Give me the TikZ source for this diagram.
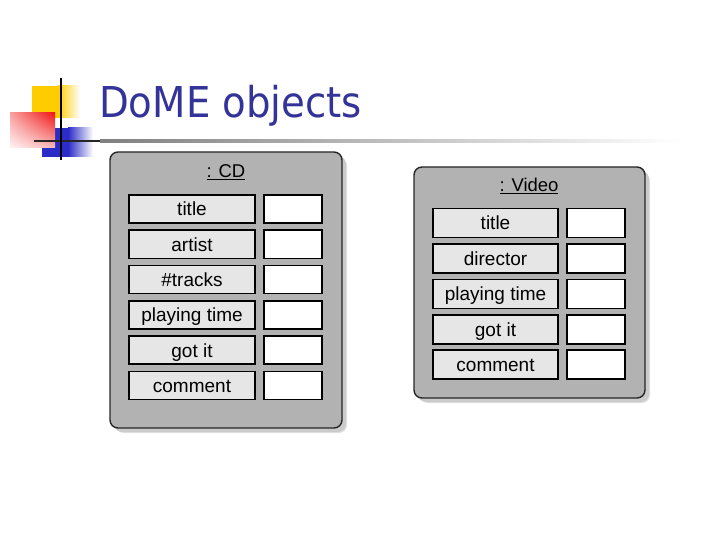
\documentclass[tikz,border=0pt]{standalone}
\usepackage{fontspec}
\usetikzlibrary{shadings}
\setmainfont{Liberation Sans}
\newfontfamily\titlefont[FakeStretch=0.91]{DejaVu Sans}
\definecolor{titleblue}{RGB}{51,51,153}
\definecolor{decoyellow}{RGB}{255,204,0}
\definecolor{decoblue}{RGB}{44,44,200}
\definecolor{decored}{RGB}{240,20,20}
\definecolor{objgray}{RGB}{178,178,178}
\definecolor{attrgray}{RGB}{230,230,230}
\begin{document}
\begin{tikzpicture}[x=1pt,y=-1pt,
  objbox/.style={draw=black!85, line width=1.4pt, fill=objgray, rounded corners=8pt},
  shadowbox/.style={fill=black!35, rounded corners=8pt, opacity=0.6},
  attr/.style={draw=black, line width=1.6pt, fill=attrgray, inner sep=0pt,
    text height=17.7pt, text depth=4pt,
    minimum width=126pt, minimum height=28pt, font=\fontsize{19}{21}\selectfont},
  val/.style={draw=black, line width=1.6pt, fill=white, inner sep=0pt,
    minimum width=58pt, minimum height=28pt},
  objlabel/.style={inner sep=0pt, font=\fontsize{18.5}{20}\selectfont}]
\useasboundingbox (0,0) rectangle (720,540);
% decoration
\fill[decoyellow] (32,86) rectangle (58,118);
\shade[left color=decoyellow, right color=white] (58,86) rectangle (80,118);
\fill[decoblue] (42,128) rectangle (68,157);
\shade[left color=decoblue, right color=white] (68,128) rectangle (93,157);
\shade[upper left=decored!40, upper right=decored, lower left=decored!5, lower right=decored!30] (10,113) rectangle (55,148);
\fill[black!85] (34,139.8) rectangle (100,142.3);
\shade[left color=black!50, right color=white] (100,139.8) rectangle (680,142.3);
\fill[black] (59.8,78) rectangle (62.3,160);
% title
\node[anchor=base west, inner sep=0pt, text=titleblue, font=\titlefont\fontsize{42.5}{44}\selectfont] (title) at (99,118) {DoME objects};
% CD object
\fill[shadowbox] (114,156) rectangle (346,432);
\fill[shadowbox, fill=black!20] (116,158) rectangle (347,433);
\path[objbox] (110,152) rectangle (342,428);
\node[objlabel] (cdlabel) at (226,172) {\underline{: CD}};
\foreach \t [count=\i from 0] in {title,artist,\#tracks,playing time,got it,comment}{
  \node[attr] (cda\i) at (192,{209+35.3*\i}) {\t};
  \node[val] (cdv\i) at (293,{209+35.3*\i}) {};
}
% Video object
\fill[shadowbox] (418,171) rectangle (649,402);
\fill[shadowbox, fill=black!20] (420,173) rectangle (650,403);
\path[objbox] (414,167) rectangle (645,398);
\node[objlabel] (vlabel) at (529,186) {\underline{: Video}};
\foreach \t [count=\i from 0] in {title,director,playing time,got it,comment}{
  \node[attr, minimum width=125pt, minimum height=29pt] (va\i) at (495.5,{223+35.4*\i}) {\t};
  \node[val, minimum height=29pt] (vv\i) at (596,{223+35.4*\i}) {};
}
\end{tikzpicture}
\end{document}
